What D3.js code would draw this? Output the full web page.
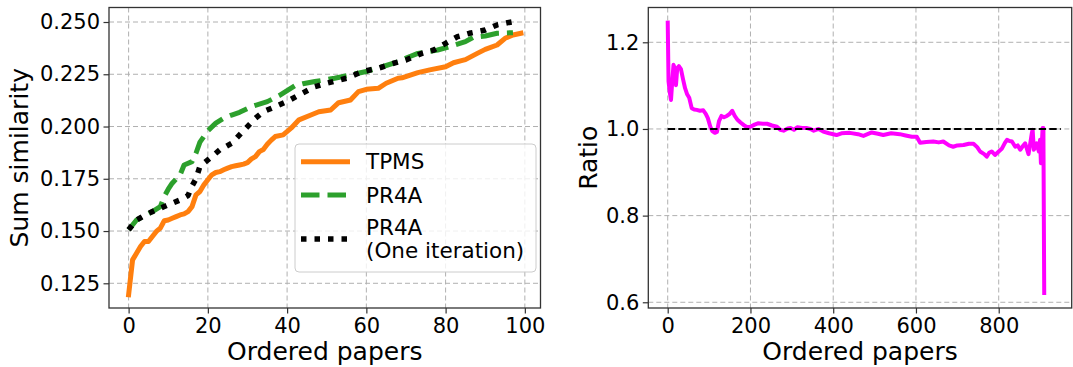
<!DOCTYPE html>
<html>
<head>
<meta charset="utf-8">
<script src="https://cdn.jsdelivr.net/npm/d3@7"></script>
<style>
  body { margin: 0; background: #fff; }
  text { font-family: "DejaVu Sans", sans-serif; fill: #000; }
  .grid line { stroke: #b0b0b0; stroke-width: 1; stroke-dasharray: 5,3; }
  .axis path { display: none; }
  .axis line { stroke: #333; stroke-width: 1.2; }
  .axis text { font-size: 21px; }
  .frame { fill: none; stroke: #333; stroke-width: 1.3; }
</style>
</head>
<body>
<svg id="chart" width="1073" height="367"></svg>
<script>
// left panel: sum similarity over the first 100 ordered papers
var tpmsX = [0,1,2,3,4,5,6,7,8,9,10,11,12,13,14,15,16,17,18,19,20,21,22,23,24,25,26,27,28,29,30,31,32,33,34,35,36,37,39,41,43,46,48,51,53,56,58,60,63,65,68,69,73,76,80,82,84,85,88,90,93,95,97,99];
var tpmsY = [0.1195,0.1362,0.1394,0.1426,0.1450,0.1450,0.1474,0.1498,0.1514,0.1549,0.1553,0.1561,0.1569,0.1577,0.1582,0.1593,0.1617,0.1673,0.1689,0.1721,0.1745,0.1769,0.1780,0.1784,0.1793,0.1801,0.1808,0.1812,0.1816,0.1820,0.1827,0.1845,0.1856,0.1880,0.1890,0.1915,0.1935,0.1952,0.1960,0.1992,0.2032,0.2055,0.2071,0.2079,0.2114,0.2127,0.2167,0.2178,0.2183,0.2207,0.2231,0.2233,0.2258,0.2271,0.2286,0.2305,0.2315,0.2320,0.2350,0.2369,0.2390,0.2422,0.2438,0.2446];

var pr4aX = [0,2,4,6,8,9,10,11,13,14,16,17,18,20,22,24,26,28,31,35,38,42,44,47,52,56,60,64,68,71,73,78,81,85,87,90,93,97];
var pr4aY = [0.1506,0.1553,0.1572,0.1593,0.1617,0.1665,0.1700,0.1729,0.1769,0.1816,0.1832,0.1872,0.1925,0.1980,0.2016,0.2040,0.2055,0.2068,0.2095,0.2119,0.2148,0.2195,0.2205,0.2215,0.2231,0.2247,0.2263,0.2286,0.2310,0.2335,0.2350,0.2366,0.2382,0.2406,0.2427,0.2433,0.2446,0.2449];

var oneX = [0,2,4,6,9,13,15,16,17,18,20,23,26,28,30,32,34,37,40,43,47,50,55,59,63,67,70,74,77,80,83,86,90,93,96,98];
var oneY = [0.1506,0.1553,0.1575,0.1593,0.1617,0.1649,0.1670,0.1715,0.1750,0.1810,0.1840,0.1888,0.1920,0.1960,0.2000,0.2040,0.2071,0.2095,0.2120,0.2151,0.2191,0.2207,0.2231,0.2263,0.2279,0.2303,0.2318,0.2350,0.2366,0.2398,0.2430,0.2446,0.2462,0.2486,0.2498,0.2505];

var leftXTicks = [0,20,40,60,80,100];
var leftYTicks = [0.125,0.150,0.175,0.200,0.225,0.250];
var legendNames = ["TPMS", "PR4A", ["PR4A", "(One iteration)"]];

// right panel: ratio over all ordered papers
var ratioX = [0,2,5,8,11,14,17,20,23,27,32,37,42,47,52,58,64,70,78,86,92,97,103,108,114,119,124,130,136,143,150,156,162,168,176,184,192,200,210,218,230,240,252,264,272,280,290,297,305,313,325,337,345,353,365,376,390,408,420,440,460,473,493,508,521,540,561,575,590,602,610,625,642,655,666,680,690,700,715,728,739,748,755,765,771,777,783,791,800,808,815,820,826,832,840,846,852,858,864,870,872,876,880,882,885,888,892,895,897,900,902,904,906,908,910];
var ratioY = [1.250,1.110,1.085,1.067,1.110,1.148,1.140,1.101,1.140,1.145,1.138,1.115,1.094,1.080,1.072,1.048,1.045,1.044,1.042,1.043,1.035,1.025,1.005,0.995,0.991,0.993,1.018,1.030,1.027,1.030,1.035,1.042,1.030,1.022,1.015,1.009,1.004,1.005,1.010,1.013,1.012,1.012,1.008,1.005,0.998,0.996,1.001,1.002,0.998,1.004,1.002,1.002,1.000,0.996,1.000,0.994,0.990,0.986,0.990,0.991,0.988,0.984,0.992,0.989,0.986,0.990,0.988,0.985,0.982,0.982,0.968,0.970,0.971,0.969,0.971,0.962,0.959,0.962,0.963,0.966,0.966,0.958,0.948,0.942,0.936,0.945,0.948,0.940,0.948,0.955,0.968,0.975,0.972,0.971,0.959,0.962,0.952,0.960,0.967,0.948,0.942,0.965,0.990,0.998,0.952,0.958,0.967,0.955,0.948,0.975,0.921,0.960,1.002,1.002,0.617];
var refLineX = [0, 950];
var rightXTicks = [0,200,400,600,800];
var rightYTicks = [0.6,0.8,1.0,1.2];

var svg = d3.select("#chart");
var top_ = 7.5, bottom = 308;

function panel(x0, x1, xDomain, yDomain, xTicks, yTicks, yFmt, yLabel, yLabelX) {
  var x = d3.scaleLinear().domain(xDomain).range([x0, x1]);
  var y = d3.scaleLinear().domain(yDomain).range([bottom, top_]);
  var g = svg.append("g");
  var grid = g.append("g").attr("class", "grid");
  grid.selectAll(".v").data(xTicks).enter().append("line")
    .attr("x1", d => x(d)).attr("x2", d => x(d)).attr("y1", top_).attr("y2", bottom);
  grid.selectAll(".h").data(yTicks).enter().append("line")
    .attr("x1", x0).attr("x2", x1).attr("y1", d => y(d)).attr("y2", d => y(d));
  g.append("g").attr("class", "axis").attr("transform", "translate(0," + bottom + ")")
    .call(d3.axisBottom(x).tickValues(xTicks).tickSize(5.5).tickPadding(4.5).tickFormat(d3.format("d")));
  g.append("g").attr("class", "axis").attr("transform", "translate(" + x0 + ",0)")
    .call(d3.axisLeft(y).tickValues(yTicks).tickSize(5.5).tickPadding(3.5).tickFormat(d3.format(yFmt)));
  g.append("text").attr("x", (x0 + x1) / 2).attr("y", 360).attr("text-anchor", "middle")
    .style("font-size", "25px").text("Ordered papers");
  g.append("text").attr("transform", "translate(" + yLabelX + "," + ((top_ + bottom) / 2) + ") rotate(-90)")
    .attr("text-anchor", "middle").style("font-size", "25px").text(yLabel);
  var plot = g.append("g");
  g.append("rect").attr("class", "frame").attr("x", x0).attr("y", top_)
    .attr("width", x1 - x0).attr("height", bottom - top_);
  return {x: x, y: y, g: g, plot: plot};
}

function drawLine(p, xs, ys, color, width, dash, cap) {
  var line = d3.line().x(d => p.x(d[0])).y(d => p.y(d[1]));
  p.plot.append("path").datum(d3.zip(xs, ys)).attr("d", line)
    .attr("fill", "none").attr("stroke", color).attr("stroke-width", width)
    .attr("stroke-dasharray", dash).attr("stroke-linecap", cap).attr("stroke-linejoin", "round");
}

// left
var L = panel(109, 540.5, [-4.95, 103.95], [0.11318, 0.25694], leftXTicks, leftYTicks, ".3f", "Sum similarity", 28);
var styles = [
  {c: "#ff7f0e", w: 5, d: null, cap: "square"},
  {c: "#2ca02c", w: 5, d: "18.5,8", cap: "butt"},
  {c: "#000", w: 5.5, d: "5.5,8", cap: "butt"}
];
drawLine(L, tpmsX, tpmsY, styles[0].c, styles[0].w, styles[0].d, styles[0].cap);
drawLine(L, pr4aX, pr4aY, styles[1].c, styles[1].w, styles[1].d, styles[1].cap);
drawLine(L, oneX, oneY, styles[2].c, styles[2].w, styles[2].d, styles[2].cap);

// legend
var lg = L.g.append("g");
lg.append("rect").attr("x", 295).attr("y", 144).attr("width", 241).attr("height", 128)
  .attr("rx", 4).attr("fill", "#fff").attr("fill-opacity", 0.8).attr("stroke", "#cccccc").attr("stroke-width", 1);
var rowY = [161.7, 195, 239];
legendNames.forEach(function(name, i) {
  var s = styles[i];
  lg.append("line").attr("x1", 301).attr("x2", 350).attr("y1", rowY[i]).attr("y2", rowY[i])
    .attr("stroke", s.c).attr("stroke-width", s.w).attr("stroke-dasharray", s.d)
    .attr("stroke-linecap", s.cap === "square" ? "butt" : s.cap);
  var lines = Array.isArray(name) ? name : [name];
  lines.forEach(function(t, j) {
    var cy = lines.length === 1 ? rowY[i] : rowY[i] - 12 + j * 23.5;
    lg.append("text").attr("x", 366).attr("y", cy).attr("dy", "0.36em")
      .style("font-size", "21.5px").text(t);
  });
});

// right
var R = panel(648.3, 1071.7, [-46.9, 976.4], [0.5868, 1.2803], rightXTicks, rightYTicks, ".1f", "Ratio", 596.5);
drawLine(R, ratioX, ratioY, "#ff00ff", 4, null, "butt");
drawLine(R, refLineX, [1, 1], "#000", 2, "7.4,3.2", "butt");
</script>
</body>
</html>
